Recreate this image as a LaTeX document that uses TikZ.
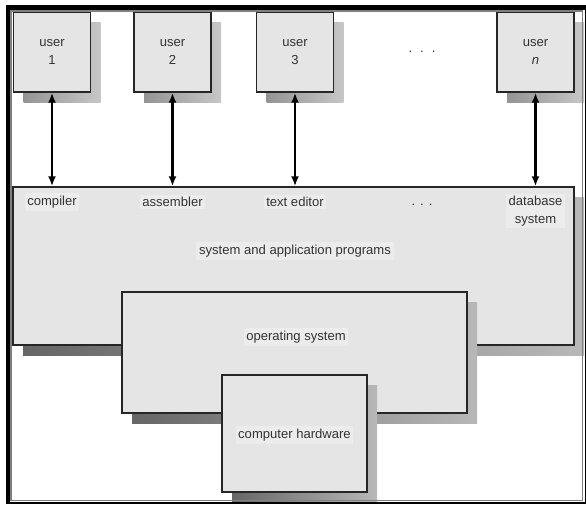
\documentclass[tikz,border=0pt]{standalone}
\usepackage{fontspec}
\setmainfont{Liberation Sans}
\usetikzlibrary{arrows.meta, positioning, shadows}

\begin{document}
\begin{tikzpicture}[
        x=0.75pt, y=-0.75pt,
        every node/.style={font=\fontsize{9.8}{13}\selectfont, text=black!80},
        box/.style={draw=black!85, line width=1.1pt, fill=gray!20, inner sep=0pt},
        usershadow/.style={general shadow={shadow xshift=7.5pt, shadow yshift=-7.5pt, left color=black!42, right color=black!22}},
        boxshadow/.style={general shadow={shadow xshift=7.5pt, shadow yshift=-7.5pt, left color=black!60, right color=black!28}},
        userbox/.style={box, usershadow, minimum width=57.75pt, minimum height=60pt, align=center},
        boxtext/.style={fill=gray!15, inner sep=2pt, align=center},
        link/.style={line width=1.7pt, {Latex[length=7.5pt,width=6pt]}-{Latex[length=7.5pt,width=6pt]}},
    ]
        \useasboundingbox (0,0) rectangle (586,504);

        % Users
        \node[userbox] (u1) at (52,52) {user\\1};
        \node[userbox] (u2) at (172.5,52) {user\\2};
        \node[userbox] (u3) at (295,52) {user\\3};
        \node[userbox] (un) at (535.5,52) {user\\\textit{n}};
        \node (udots) at (422,52) {.\hspace{6pt}.\hspace{6pt}.};

        % System and application programs
        \node[box, boxshadow, minimum width=420.75pt, minimum height=118.5pt] (sys) at (293.5,266) {};
        \node[boxtext] (comp) at (52,202) {compiler};
        \node[boxtext] (asm) at (172.5,202) {assembler};
        \node[boxtext] (edit) at (295,202) {text editor};
        \node (sdots) at (422,205) {.\hspace{3.7pt}.\hspace{3.7pt}.};
        \node[boxtext] (db) at (535.5,211) {database\\system};
        \node[boxtext] (sysname) at (295,251) {system and application programs};

        % Operating system
        \node[box, boxshadow, minimum width=258.75pt, minimum height=90.75pt] (os) at (294.5,352.5) {};
        \node[boxtext] (osname) at (296,337) {operating system};

        % Hardware
        \node[box, boxshadow, minimum width=108.75pt, minimum height=87.75pt] (hw) at (294.5,433.5) {};
        \node[boxtext] (hwname) at (294.5,435) {computer hardware};

        % Links
        \foreach \u in {u1, u2, u3, un} \draw[link] (\u.south) -- (\u.south |- sys.north);

        % Frame
        \draw[gray, line width=1.2pt] (11,11) rectangle (582.5,500.5);
        \draw[line width=3.5pt] (8,504) -- (8,7.5) -- (586,7.5);
        \draw[line width=1.5pt] (585.5,7.5) -- (585.5,503) -- (8,503);
    \end{tikzpicture}
\end{document}
